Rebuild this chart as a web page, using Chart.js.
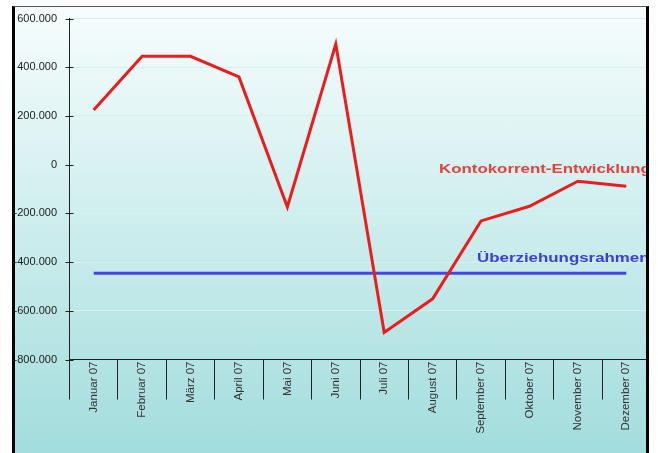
<!DOCTYPE html>
<html>
<head>
<meta charset="utf-8">
<script src="https://cdn.jsdelivr.net/npm/chart.js@4/dist/chart.umd.min.js"></script>
<style>
  html, body { margin: 0; padding: 0; background: #fff; overflow: hidden; }
  #frame {
    position: absolute; left: 12px; top: 6px;
    width: 631px; height: 470px;
    border-left: 3px solid #000; border-right: 3px solid #000; border-top: 1px solid #555;
    background: linear-gradient(#f7fdfd, #9edbdb);
    overflow: hidden;
  }
  #chart { position: absolute; left: 0; top: 0; }
</style>
</head>
<body>
<div id="frame"><canvas id="chart" width="640" height="446"></canvas></div>
<script>
// values
const MONTHS = ["Januar 07", "Februar 07", "März 07", "April 07", "Mai 07", "Juni 07",
                "Juli 07", "August 07", "September 07", "Oktober 07", "November 07", "Dezember 07"];
const BALANCE = [224000, 445000, 445000, 360000, -174000, 495000,
                 -689000, -551000, -231000, -171000, -68000, -89000];
const LIMIT = [-446000, -446000, -446000, -446000, -446000, -446000,
               -446000, -446000, -446000, -446000, -446000, -446000];
const Y_TICKS = [600000, 400000, 200000, 0, -200000, -400000, -600000, -800000];
const BALANCE_NAME = "Kontokorrent-Entwicklung";
const LIMIT_NAME = "Überziehungsrahmen";

const RED = "#ec1c1c";
const BLUE = "#4646e4";
const FONT = "'Liberation Sans', Arial, sans-serif";

// 600000 -> "600.000"
const fmt = (v) => (v < 0 ? "-" : "") + String(Math.abs(v)).replace(/\B(?=(\d{3})+(?!\d))/g, ".");

// small ticks crossing the y axis + series names (Excel style)
const decor = {
  id: "decor",
  beforeDatasetsDraw(chart) {
    const { ctx, scales: { y } } = chart;
    const x0 = y.right;
    ctx.save();
    ctx.strokeStyle = "#222";
    ctx.lineWidth = 1;
    y.ticks.forEach((t) => {
      const py = Math.round(y.getPixelForValue(t.value)) + 0.5;
      ctx.beginPath();
      ctx.moveTo(x0 - 4, py);
      ctx.lineTo(x0 + 4, py);
      ctx.stroke();
    });
    ctx.restore();
  },
  afterDraw(chart) {
    const { ctx } = chart;
    const label = (text, color, x, y) => {
      ctx.save();
      ctx.translate(x, y);
      ctx.scale(1.25, 1);
      ctx.font = "bold 13.5px " + FONT;
      ctx.fillStyle = color;
      ctx.textBaseline = "alphabetic";
      ctx.fillText(text, 0, 0);
      ctx.restore();
    };
    label(BALANCE_NAME, "#e8403f", 424, 165.5);
    label(LIMIT_NAME, "#3c3ce0", 462, 254.5);
  },
};

function renderChart() {
  const Chart = window.Chart;
  new Chart(document.getElementById("chart"), {
    type: "line",
    data: {
      labels: MONTHS,
      datasets: [
        { label: BALANCE_NAME, data: BALANCE, borderColor: RED, borderWidth: 3, pointRadius: 0, tension: 0 },
        { label: LIMIT_NAME, data: LIMIT, borderColor: BLUE, borderWidth: 3, pointRadius: 0, tension: 0 },
      ],
    },
    options: {
      responsive: false,
      animation: false,
      layout: { padding: { left: 0, top: 11.5, right: 4.5, bottom: 0 } },
      scales: {
        x: {
          offset: true,
          grid: { display: true, offset: true, drawOnChartArea: false, tickLength: 40, color: "#222" },
          border: { display: true, color: "#222" },
          ticks: { minRotation: 90, maxRotation: 90, autoSkip: false, padding: -38, color: "#333",
                   font: { family: FONT, size: 11.5 } },
          afterFit: (s) => { s.height = 93.5; s.paddingLeft = 0; s.paddingRight = 0; },
        },
        y: {
          min: -800000, max: 600000,
          afterBuildTicks: (s) => { s.ticks = Y_TICKS.map((v) => ({ value: v })); },
          grid: { color: "#d2f1f2", drawTicks: false },
          border: { display: true, color: "#222" },
          ticks: { padding: 12.5, color: "#1a1a1a", callback: (v) => fmt(v),
                   font: { family: FONT, size: 11 } },
          // fixed axis box; label overflow top/bottom must not shrink the plot
          afterFit: (s) => { s.width = 54.5; s.paddingTop = 0; s.paddingBottom = 0; },
        },
      },
      plugins: { legend: { display: false }, tooltip: { enabled: false } },
    },
    plugins: [decor],
  });
}

document.addEventListener("DOMContentLoaded", renderChart);
</script>
</body>
</html>
